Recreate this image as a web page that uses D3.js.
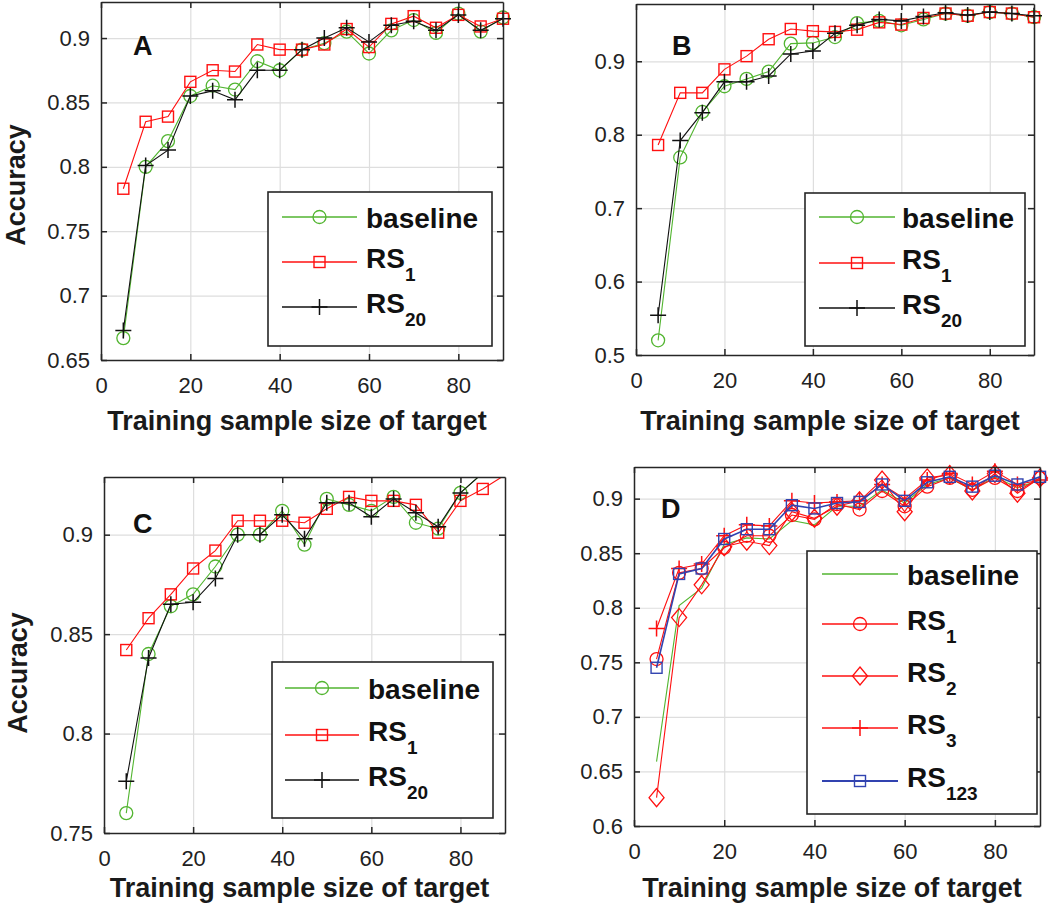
<!DOCTYPE html>
<html><head><meta charset="utf-8">
<script src="https://cdn.jsdelivr.net/npm/d3@7"></script>
<style>
body{margin:0;background:#fff;}
svg{display:block;font-family:"Liberation Sans",Arial,sans-serif;}
</style></head><body>
<svg id="chart" width="1050" height="913"></svg>
<script>
// ---------- data ----------
const xValues = [5,10,15,20,25,30,35,40,45,50,55,60,65,70,75,80,85,90];
const xTicks = [0,20,40,60,80];
const yTicksA = [0.65,0.7,0.75,0.8,0.85,0.9];
const yTicksB = [0.5,0.6,0.7,0.8,0.9];
const yTicksC = [0.75,0.8,0.85,0.9];
const yTicksD = [0.6,0.65,0.7,0.75,0.8,0.85,0.9];
const xLim = [0,90];
const yLimA = [0.65,0.928];
const yLimB = [0.5,0.978];
const yLimC = [0.75,0.929];
const yLimD = [0.6,0.929];

const aBaseline = [0.667,0.800,0.820,0.855,0.863,0.860,0.882,0.875,0.891,0.896,0.905,0.888,0.906,0.914,0.904,0.919,0.905,0.916];
const aRS1      = [0.783,0.835,0.839,0.866,0.875,0.874,0.895,0.891,0.891,0.895,0.907,0.893,0.911,0.917,0.908,0.918,0.909,0.915];
const aRS20     = [0.673,0.801,0.813,0.855,0.859,0.852,0.875,0.875,0.891,0.900,0.908,0.897,0.910,0.913,0.906,0.918,0.906,0.915];

const bBaseline = [0.520,0.769,0.831,0.866,0.876,0.886,0.924,0.925,0.933,0.952,0.955,0.949,0.957,0.965,0.962,0.967,0.965,0.960];
const bRS1      = [0.786,0.857,0.857,0.889,0.907,0.930,0.944,0.941,0.940,0.943,0.953,0.950,0.959,0.965,0.962,0.967,0.965,0.960];
const bRS20     = [0.554,0.792,0.830,0.872,0.872,0.880,0.910,0.914,0.938,0.949,0.957,0.955,0.961,0.966,0.963,0.967,0.965,0.962];

const cBaseline = [0.760,0.840,0.864,0.870,0.884,0.900,0.900,0.912,0.895,0.918,0.915,0.912,0.919,0.906,0.903,0.921,0.931,0.936];
const cRS1      = [0.842,0.858,0.870,0.883,0.892,0.907,0.907,0.907,0.906,0.913,0.919,0.917,0.917,0.915,0.901,0.917,0.923,0.930];
const cRS20     = [0.776,0.838,0.865,0.866,0.878,0.900,0.900,0.910,0.898,0.916,0.916,0.909,0.918,0.911,0.904,0.921,0.931,0.936];

const dBaseline = [0.659,0.802,0.818,0.858,0.864,0.863,0.880,0.876,0.893,0.893,0.908,0.896,0.913,0.919,0.908,0.920,0.910,0.917];
const dRS1      = [0.753,0.832,0.836,0.855,0.866,0.866,0.885,0.881,0.895,0.890,0.907,0.893,0.911,0.919,0.908,0.919,0.907,0.919];
const dRS2      = [0.626,0.791,0.821,0.856,0.861,0.857,0.888,0.882,0.893,0.898,0.917,0.888,0.919,0.922,0.907,0.923,0.905,0.919];
const dRS3      = [0.781,0.836,0.840,0.866,0.876,0.875,0.898,0.896,0.897,0.898,0.913,0.900,0.917,0.923,0.913,0.925,0.913,0.917];
const dRS123    = [0.745,0.831,0.836,0.863,0.872,0.872,0.894,0.891,0.896,0.897,0.913,0.898,0.915,0.920,0.911,0.921,0.913,0.920];

// ---------- styles ----------
const GREEN = "#52b530", RED = "#ff1010", BLACK = "#111111", BLUE = "#3143b0";

const panels = [
  {id:"A", box:[101,2,503,360], yLim:yLimA, yTicks:yTicksA, ylab:true, ylabPos:[16,185], xlabY:430, letter:[133,55],
   legend:{box:[268,192,492,346], rows:[217,262,307], lx:[282,357], tx:366},
   series:[{v:aBaseline,c:GREEN,m:"circle",name:"baseline"},{v:aRS1,c:RED,m:"square",name:"RS",sub:"1"},{v:aRS20,c:BLACK,m:"plus",name:"RS",sub:"20"}]},
  {id:"B", box:[636,4,1034,355], yLim:yLimB, yTicks:yTicksB, ylab:false, xlabY:430, letter:[672,55],
   legend:{box:[805,193,1025,346], rows:[217,263,308], lx:[819,895], tx:902},
   series:[{v:bBaseline,c:GREEN,m:"circle",name:"baseline"},{v:bRS1,c:RED,m:"square",name:"RS",sub:"1"},{v:bRS20,c:BLACK,m:"plus",name:"RS",sub:"20"}]},
  {id:"C", box:[104,477,505,833], yLim:yLimC, yTicks:yTicksC, ylab:true, ylabPos:[18,673], xlabY:897, letter:[133,533],
   legend:{box:[272,662,493,818], rows:[688,735,780], lx:[285,359], tx:368},
   series:[{v:cBaseline,c:GREEN,m:"circle",name:"baseline"},{v:cRS1,c:RED,m:"square",name:"RS",sub:"1"},{v:cRS20,c:BLACK,m:"plus",name:"RS",sub:"20"}]},
  {id:"D", box:[634,467,1040,826], yLim:yLimD, yTicks:yTicksD, ylab:false, xlabY:897, letter:[661,518],
   legend:{box:[807,551,1037,814], rows:[574,624,676,728,781], lx:[822,898], tx:907},
   series:[{v:dBaseline,c:GREEN,m:"none",name:"baseline"},{v:dRS1,c:RED,m:"circle",name:"RS",sub:"1"},{v:dRS2,c:RED,m:"diamond",name:"RS",sub:"2"},{v:dRS3,c:RED,m:"plus",name:"RS",sub:"3"},{v:dRS123,c:BLUE,m:"square",name:"RS",sub:"123",w:1.6}]}
];

const svg = d3.select("#chart");

function marker(g, type, cx, cy, color, big){
  const s = big ? 1.1 : 1;
  if(type==="circle"){
    g.append("circle").attr("cx",cx).attr("cy",cy).attr("r",6.5*s).attr("fill","none").attr("stroke",color).attr("stroke-width",1.3);
  } else if(type==="square"){
    const h=5.5*s;
    g.append("rect").attr("x",cx-h).attr("y",cy-h).attr("width",2*h).attr("height",2*h).attr("fill","none").attr("stroke",color).attr("stroke-width",1.4);
  } else if(type==="plus"){
    const h=8*s;
    g.append("path").attr("d",`M${cx-h},${cy}H${cx+h}M${cx},${cy-h}V${cy+h}`).attr("stroke",color).attr("stroke-width",1.5).attr("fill","none");
  } else if(type==="diamond"){
    const w=7.5*s, h=9*s;
    g.append("path").attr("d",`M${cx},${cy-h}L${cx+w},${cy}L${cx},${cy+h}L${cx-w},${cy}Z`).attr("stroke",color).attr("stroke-width",1.3).attr("fill","none");
  }
}

panels.forEach(p=>{
  const [x0,y0,x1,y1] = p.box;
  const W = x1-x0, H = y1-y0;
  const x = d3.scaleLinear().domain(xLim).range([0,W]);
  const y = d3.scaleLinear().domain(p.yLim).range([H,0]);
  const g = svg.append("g").attr("transform",`translate(${x0},${y0})`);
  const clipId = "clip"+p.id;
  svg.append("defs").append("clipPath").attr("id",clipId).append("rect").attr("x",0).attr("y",0).attr("width",W).attr("height",H);

  g.append("rect").attr("width",W).attr("height",H).attr("fill","#fff");

  // grid
  const gx = g.append("g").attr("transform",`translate(0,${H})`)
    .call(d3.axisBottom(x).tickValues(xTicks).tickSize(-H).tickFormat(""));
  gx.select(".domain").remove();
  gx.selectAll("line").attr("stroke","#dedede").attr("stroke-width",1.2);
  const gy = g.append("g").call(d3.axisLeft(y).tickValues(p.yTicks).tickSize(-W).tickFormat(""));
  gy.select(".domain").remove();
  gy.selectAll("line").attr("stroke","#dedede").attr("stroke-width",1.2);

  // series
  const line = d3.line().x((d,i)=>x(xValues[i])).y(d=>y(d));
  const plot = g.append("g");
  p.series.forEach(s=>{
    plot.append("path").attr("d",line(s.v)).attr("fill","none").attr("stroke",s.c)
      .attr("stroke-width",s.w||1.1).attr("clip-path",`url(#${clipId})`);
    const mg = plot.append("g");
    s.v.forEach((v,i)=>{
      if(v<=p.yLim[1] && v>=p.yLim[0]) marker(mg,s.m,x(xValues[i]),y(v),s.c);
    });
  });

  // axes frame + ticks
  const axStyle = sel=>{
    sel.select(".domain").attr("stroke","#262626").attr("stroke-width",1.5);
    sel.selectAll(".tick line").attr("stroke","#262626").attr("stroke-width",1.5);
    sel.selectAll("text").attr("font-size",22).attr("fill","#222").attr("font-family","Liberation Sans, Arial, sans-serif");
  };
  g.append("g").attr("transform",`translate(0,${H})`)
    .call(d3.axisBottom(x).tickValues(xTicks).tickSizeInner(-6).tickSizeOuter(0).tickPadding(17).tickFormat(d=>String(d))).call(axStyle);
  g.append("g")
    .call(d3.axisTop(x).tickValues(xTicks).tickSizeInner(-6).tickSizeOuter(0).tickFormat("")).call(axStyle);
  g.append("g")
    .call(d3.axisLeft(y).tickValues(p.yTicks).tickSizeInner(-6).tickSizeOuter(0).tickPadding(11).tickFormat(d=>String(d))).call(axStyle);
  g.append("g").attr("transform",`translate(${W},0)`)
    .call(d3.axisRight(y).tickValues(p.yTicks).tickSizeInner(-6).tickSizeOuter(0).tickFormat("")).call(axStyle);

  // panel letter
  svg.append("text").attr("x",p.letter[0]).attr("y",p.letter[1]).attr("font-size",27).attr("font-weight","bold").attr("fill","#111").text(p.id);

  // x label
  svg.append("text").attr("x",x0+W/2-5).attr("y",p.xlabY).attr("text-anchor","middle")
    .attr("font-size",27).attr("font-weight","bold").attr("fill","#1a1a1a").text("Training sample size of target");
  if(p.ylab){
    svg.append("text").attr("transform",`translate(${p.ylabPos[0]},${p.ylabPos[1]}) rotate(-90)`)
      .attr("text-anchor","middle").attr("dominant-baseline","central")
      .attr("font-size",27).attr("font-weight","bold").attr("fill","#1a1a1a").text("Accuracy");
  }

  // legend
  const L = p.legend;
  const lg = svg.append("g");
  lg.append("rect").attr("x",L.box[0]).attr("y",L.box[1]).attr("width",L.box[2]-L.box[0]).attr("height",L.box[3]-L.box[1])
    .attr("fill","#fff").attr("stroke","#262626").attr("stroke-width",1.6);
  p.series.forEach((s,i)=>{
    const ry = L.rows[i];
    lg.append("line").attr("x1",L.lx[0]).attr("x2",L.lx[1]).attr("y1",ry).attr("y2",ry).attr("stroke",s.c).attr("stroke-width",s.w?1.8:1.5);
    marker(lg,s.m,(L.lx[0]+L.lx[1])/2,ry,s.c);
    if(s.sub){
      const t = lg.append("text").attr("x",L.tx).attr("y",ry+6).attr("font-size",28).attr("font-weight","bold").attr("fill","#111");
      t.append("tspan").text(s.name);
      t.append("tspan").attr("font-size",19).attr("dy",13).text(s.sub);
    } else {
      lg.append("text").attr("x",L.tx).attr("y",ry+11).attr("font-size",28).attr("font-weight","bold").attr("fill","#111").text(s.name);
    }
  });
});
</script>
</body></html>
